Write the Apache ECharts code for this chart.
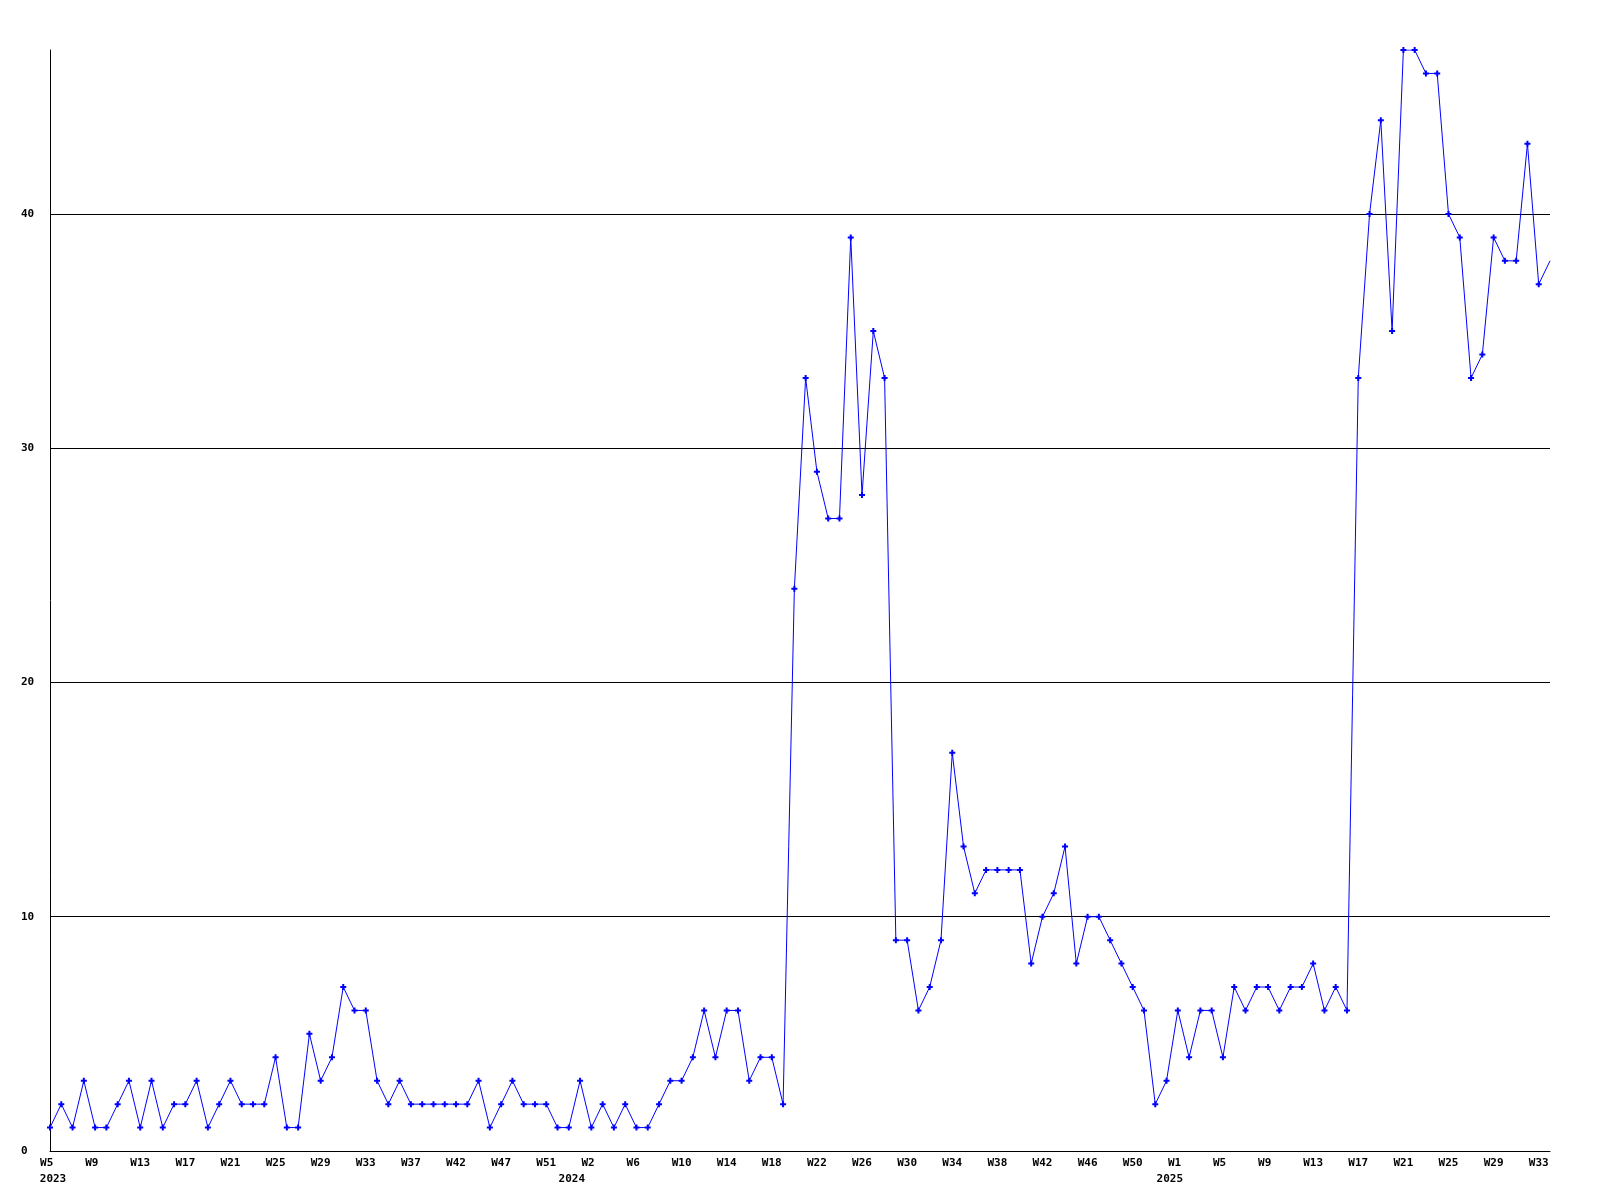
<!DOCTYPE html>
<html>
<head>
<meta charset="utf-8">
<script src="https://cdn.jsdelivr.net/npm/echarts@6/dist/echarts.min.js"></script>
<style>
html,body{margin:0;padding:0;background:#fff;}
#chart{width:1600px;height:1200px;}
</style>
</head>
<body>
<div id="chart"></div>
<script>
// Tick labels shown every 4th weekly point
const tickLabels = ['W5','W9','W13','W17','W21','W25','W29','W33','W37','W42','W47','W51',
  'W2','W6','W10','W14','W18','W22','W26','W30','W34','W38','W42','W46','W50',
  'W1','W5','W9','W13','W17','W21','W25','W29','W33'];
// Year labels placed under given tick label index
const yearTickIndex = [0, 12, 25];
const yearLabels = ['2023', '2024', '2025'];

// Weekly values
const values = [
  1,2,1,3,1,1,2,3,1,3,1,2,2,3,1,2,3,2,2,2,
  4,1,1,5,3,4,7,6,6,3,2,3,2,2,2,2,2,2,3,1,
  2,3,2,2,2,1,1,3,1,2,1,2,1,1,2,3,3,4,6,4,
  6,6,3,4,4,2,24,33,29,27,27,39,28,35,33,9,9,6,7,9,
  17,13,11,12,12,12,12,8,10,11,13,8,10,10,9,8,7,6,2,3,
  6,4,6,6,4,7,6,7,7,6,7,7,8,6,7,6,33,40,44,35,
  47,47,46,46,40,39,33,34,39,38,38,43,37,38
];

const categories = values.map((v, i) => (i % 4 === 0 ? (tickLabels[i / 4] || '') : '') + '#' + i);

const FONT = 'DejaVu Sans Mono';
const yearPad = [[0, 0, 0, 6], [0, 39, 0, 0], [0, 16, 0, 0]];
const rich = {};
yearLabels.forEach((y, k) => {
  rich['y' + k] = { fontFamily: FONT, fontSize: 11, fontWeight: 'bold', color: '#000', padding: yearPad[k], lineHeight: 16 };
});

const chart = echarts.init(document.getElementById('chart'), null, { renderer: 'canvas' });
chart.setOption({
  backgroundColor: '#ffffff',
  animation: false,
  grid: { left: 50, right: 50, top: 50, bottom: 49, containLabel: false },
  xAxis: {
    type: 'category',
    data: categories,
    boundaryGap: false,
    axisLine: { show: true, lineStyle: { color: '#000', width: 1 } },
    axisTick: { show: false },
    splitLine: { show: false },
    axisLabel: {
      interval: 3,
      margin: 4,
      color: '#000',
      fontFamily: FONT,
      fontSize: 11,
      fontWeight: 'bold',
      lineHeight: 16,
      verticalAlign: 'top',
      rich: rich,
      formatter: function (value, idx) {
        if (idx % 4 !== 0) return '';
        const k = idx / 4;
        let w = tickLabels[k] || '';
        if (w.length < 3) w += ' ';
        const yi = yearTickIndex.indexOf(k);
        if (yi >= 0) return w + '\n{y' + yi + '|' + yearLabels[yi] + '}';
        return w;
      }
    }
  },
  yAxis: {
    type: 'value',
    min: 0,
    max: 47,
    interval: 10,
    axisLine: { show: true, lineStyle: { color: '#000', width: 1 } },
    axisTick: { show: false },
    splitLine: { show: true, showMaxLine: false, lineStyle: { color: '#000', width: 1 } },
    axisLabel: {
      showMaxLabel: false,
      align: 'left',
      margin: 29,
      color: '#000',
      fontFamily: FONT,
      fontSize: 11,
      fontWeight: 'bold',
      formatter: function (v) { return v > 40 ? '' : String(v); }
    }
  },
  series: [{
    type: 'line',
    data: values.map((v, i) => i === values.length - 1 ? { value: v, symbol: 'none' } : v),
    showSymbol: true,
    showAllSymbol: true,
    symbol: 'path://M1,0H2V1H3V2H2V3H1V2H0V1H1Z',
    symbolSize: 6,
    itemStyle: { color: '#0000ff' },
    lineStyle: { color: '#0000ff', width: 1 },
    emphasis: { disabled: true }
  }]
});
</script>
</body>
</html>
